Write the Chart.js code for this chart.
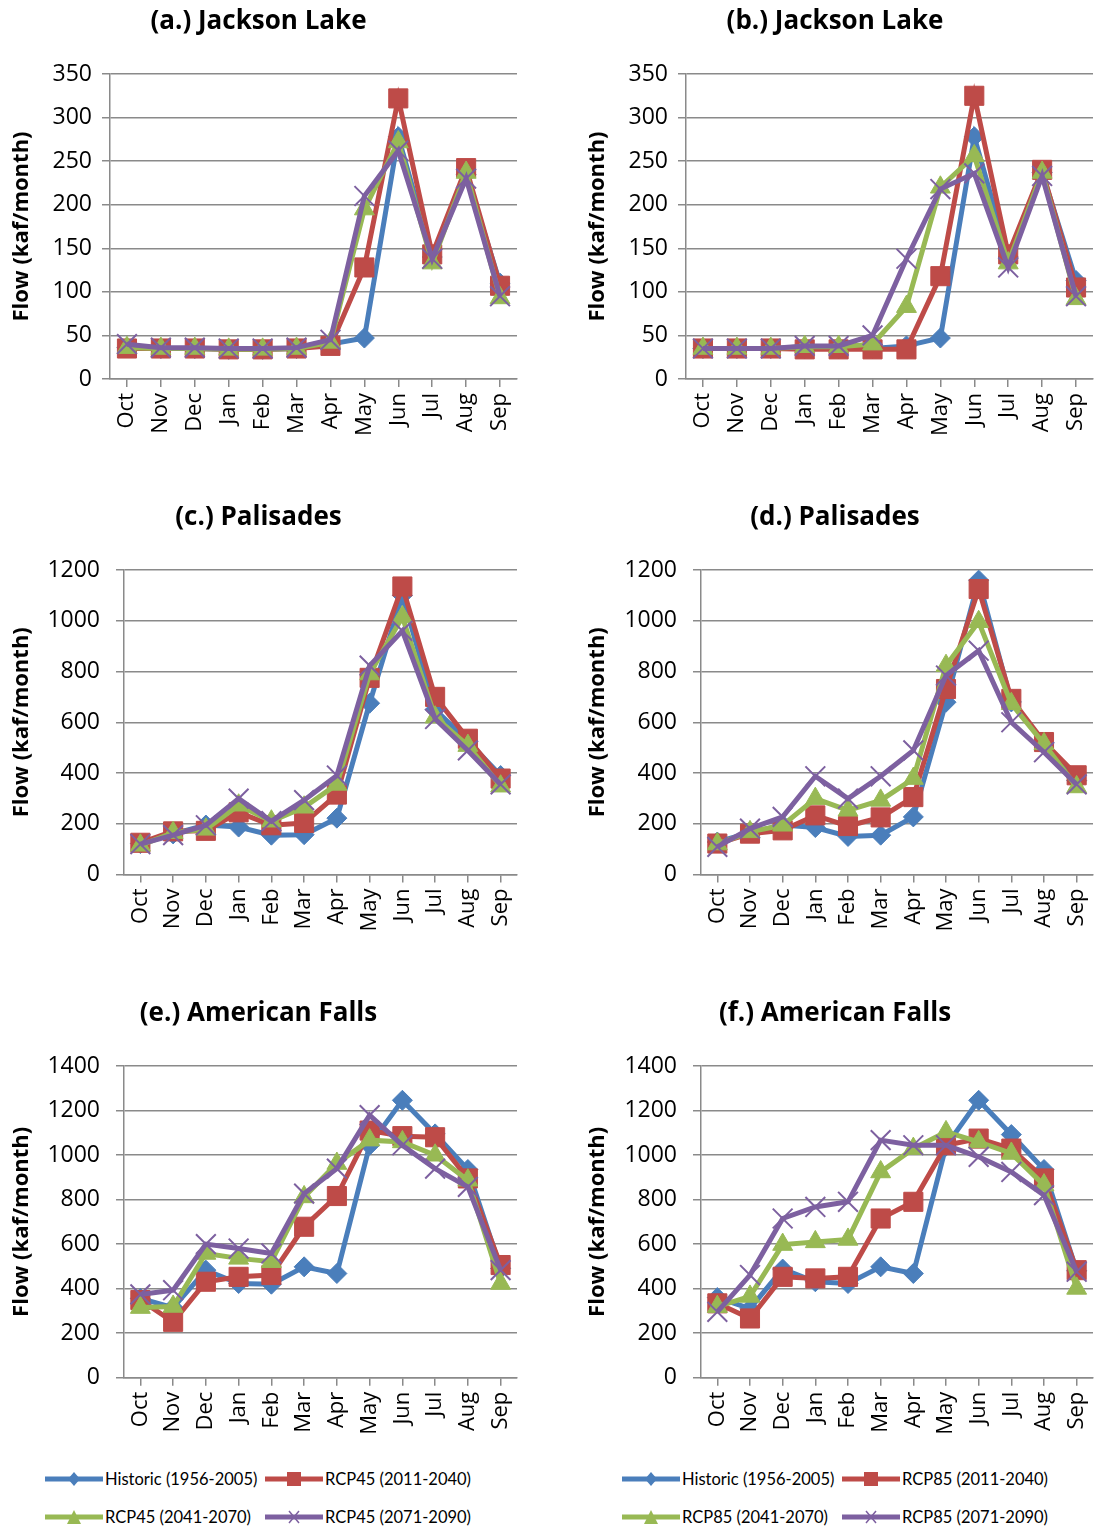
<!DOCTYPE html>
<html>
<head>
<meta charset="utf-8">
<script src="https://cdn.jsdelivr.net/npm/chart.js@4.4.1/dist/chart.umd.min.js"></script>
<style>
  body { margin: 0; background: #fff; }
  #page { position: relative; width: 1094px; height: 1531px; overflow: hidden; background: #fff; }
  #page canvas { position: absolute; }
  .leg { position: absolute; display: flex; align-items: center; height: 22px;
         font-family: Lato, sans-serif; font-size: 16.5px; color: #000; white-space: nowrap; }
  .leg svg { margin-right: 2px; }
</style>
</head>
<body>
<div id="page">
  <canvas id="chartA" width="549" height="450" style="left:-16px;top:0"></canvas>
  <canvas id="chartB" width="548" height="450" style="left:561px;top:0"></canvas>
  <canvas id="chartC" width="549" height="450" style="left:-16px;top:496px"></canvas>
  <canvas id="chartD" width="548" height="450" style="left:561px;top:496px"></canvas>
  <canvas id="chartE" width="549" height="460" style="left:-16px;top:992px"></canvas>
  <canvas id="chartF" width="548" height="460" style="left:561px;top:992px"></canvas>
</div>
<script>
const months = ["Oct", "Nov", "Dec", "Jan", "Feb", "Mar", "Apr", "May", "Jun", "Jul", "Aug", "Sep"];

const namesRcp45 = ["Historic (1956-2005)", "RCP45 (2011-2040)", "RCP45 (2041-2070)", "RCP45 (2071-2090)"];
const namesRcp85 = ["Historic (1956-2005)", "RCP85 (2011-2040)", "RCP85 (2041-2070)", "RCP85 (2071-2090)"];

// (a.) Jackson Lake, RCP45
const jacksonHist45 = [36, 35, 35, 34, 34, 35, 40, 47, 278, 140, 235, 110];
const jackson45Early = [35, 35, 35, 34, 34, 35, 38, 128, 322, 143, 242, 107];
const jackson45Mid = [36, 35, 35, 34, 34, 35, 42, 195, 272, 133, 237, 93];
const jackson45Late = [40, 36, 36, 35, 35, 36, 45, 210, 262, 138, 230, 95];

// (b.) Jackson Lake, RCP85
const jacksonHist85 = [35, 35, 35, 35, 35, 35, 38, 47, 278, 140, 237, 113];
const jackson85Early = [35, 35, 35, 34, 34, 34, 34, 118, 325, 143, 240, 105];
const jackson85Mid = [35, 35, 35, 37, 37, 40, 83, 220, 256, 133, 237, 92];
const jackson85Late = [35, 35, 35, 38, 38, 50, 138, 218, 236, 128, 233, 95];

// (c.) Palisades, RCP45
const palisadesHist45 = [122, 160, 195, 187, 155, 157, 222, 675, 1100, 650, 525, 390];
const palisades45Early = [125, 170, 172, 245, 194, 203, 315, 775, 1135, 700, 535, 378];
const palisades45Mid = [115, 165, 178, 273, 210, 265, 355, 790, 1015, 620, 508, 348];
const palisades45Late = [120, 155, 194, 299, 210, 293, 390, 823, 960, 613, 489, 355];

// (d.) Palisades, RCP85
const palisadesHist85 = [128, 165, 195, 185, 150, 155, 227, 679, 1160, 680, 520, 370];
const palisades85Early = [122, 161, 174, 233, 191, 225, 305, 731, 1125, 692, 522, 391];
const palisades85Mid = [120, 168, 194, 299, 253, 292, 378, 823, 996, 673, 515, 345];
const palisades85Late = [109, 181, 227, 387, 299, 387, 489, 784, 882, 600, 482, 355];

// (e.) American Falls, RCP45
const amFallsHist45 = [356, 315, 483, 423, 420, 498, 468, 1044, 1246, 1095, 935, 491];
const amFalls45Early = [349, 251, 431, 453, 461, 678, 816, 1110, 1085, 1080, 895, 506];
const amFalls45Mid = [315, 320, 558, 536, 521, 812, 962, 1067, 1059, 999, 887, 423];
const amFalls45Late = [374, 393, 600, 580, 558, 827, 939, 1179, 1044, 939, 857, 483];

// (f.) American Falls, RCP85
const amFallsHist85 = [360, 310, 488, 431, 423, 498, 468, 1040, 1246, 1092, 935, 480];
const amFalls85Early = [334, 266, 453, 446, 453, 715, 790, 1044, 1074, 1029, 895, 483];
const amFalls85Mid = [319, 365, 598, 610, 621, 924, 1029, 1104, 1059, 1007, 865, 401];
const amFalls85Late = [296, 461, 715, 767, 790, 1067, 1044, 1044, 992, 924, 820, 476];

const seriesColors = ["#4A7EBB", "#BE4B48", "#98B954", "#7D60A0"];
const seriesMarkers = ["rectRot", "rect", "triangle", "crossRot"];
const markerSizes = [10, 13.5, 11.5, 14];

const gridGray = "#8a8a8a";

// chart.js keeps ~16px free on the right for the markers, so canvases are a bit wider
function makeChart(id, title, names, series, yMax, yStep, yWidth, xHeight, tickPad, yTitlePad) {
  const datasets = series.map((data, i) => ({
    label: names[i],
    data: data,
    borderColor: seriesColors[i],
    backgroundColor: seriesColors[i],
    borderWidth: 5,
    tension: 0,
    pointStyle: seriesMarkers[i],
    pointRadius: markerSizes[i],
    pointBorderWidth: i === 3 ? 2 : 1,
    pointBorderColor: seriesColors[i],
    pointBackgroundColor: seriesColors[i],
    order: 4 - i,
    clip: false,
  }));

  return new Chart(document.getElementById(id), {
    type: "line",
    data: { labels: months, datasets },
    options: {
      responsive: false,
      animation: false,
      layout: { padding: 0 },
      plugins: {
        legend: { display: false },
        tooltip: { enabled: false },
        title: {
          display: true,
          text: title,
          color: "#000",
          font: { family: "'Open Sans'", size: 26, weight: "bold" },
          padding: { top: 6.4, bottom: 36.4 },
        },
      },
      scales: {
        x: {
          offset: true,
          afterFit(scale) {
            scale.height = xHeight;
            scale.paddingLeft = 0;
            scale.paddingRight = 0;
          },
          grid: {
            drawOnChartArea: false,
            drawTicks: true,
            tickLength: 8,
            color: gridGray,
            lineWidth: 1.5,
          },
          border: { color: gridGray, width: 1.5 },
          ticks: {
            minRotation: 90,
            maxRotation: 90,
            autoSkip: false,
            padding: 6,
            color: "#000",
            font: { family: "'Open Sans'", size: 22 },
          },
        },
        y: {
          min: 0,
          max: yMax,
          afterFit(scale) { scale.width = yWidth; },
          grid: { color: gridGray, lineWidth: 1.5, tickLength: 8 },
          border: { color: gridGray, width: 1.5 },
          ticks: {
            stepSize: yStep,
            padding: tickPad,
            color: "#000",
            font: { family: "'Open Sans'", size: 23 },
            callback: (v) => String(v),
          },
          title: {
            display: true,
            text: "Flow (kaf/month)",
            color: "#000",
            font: { family: "'Open Sans'", size: 22, weight: "bold" },
            padding: { top: yTitlePad, bottom: 0 },
          },
        },
      },
    },
  });
}

makeChart("chartA", "(a.) Jackson Lake", namesRcp45,
  [jacksonHist45, jackson45Early, jackson45Mid, jackson45Late], 350, 50, 126, 71, 10, 24.8);
makeChart("chartB", "(b.) Jackson Lake", namesRcp85,
  [jacksonHist85, jackson85Early, jackson85Mid, jackson85Late], 350, 50, 125, 71, 10, 23.8);
makeChart("chartC", "(c.) Palisades", namesRcp45,
  [palisadesHist45, palisades45Early, palisades45Mid, palisades45Late], 1200, 200, 140, 71.5, 16, 24.8);
makeChart("chartD", "(d.) Palisades", namesRcp85,
  [palisadesHist85, palisades85Early, palisades85Mid, palisades85Late], 1200, 200, 140, 71.5, 16, 23.8);
makeChart("chartE", "(e.) American Falls", namesRcp45,
  [amFallsHist45, amFalls45Early, amFalls45Mid, amFalls45Late], 1400, 200, 140, 74.3, 16, 24.8);
makeChart("chartF", "(f.) American Falls", namesRcp85,
  [amFallsHist85, amFalls85Early, amFalls85Mid, amFalls85Late], 1400, 200, 140, 74.3, 16, 23.8);

// legends below the bottom row, drawn as html
function markerSvg(i) {
  const c = seriesColors[i];
  let m = "";
  if (seriesMarkers[i] === "rectRot") m = `<polygon points="29,4 35,11 29,18 23,11" fill="${c}"/>`;
  if (seriesMarkers[i] === "rect") m = `<rect x="22" y="4" width="14" height="14" fill="${c}"/>`;
  if (seriesMarkers[i] === "triangle") m = `<polygon points="29,4 36,18 22,18" fill="${c}"/>`;
  if (seriesMarkers[i] === "crossRot") m = `<path d="M24,5 L34,17 M34,5 L24,17" stroke="${c}" stroke-width="1.5"/>`;
  return `<svg width="58" height="22"><line x1="0" y1="11" x2="58" y2="11" stroke="${c}" stroke-width="5" stroke-linecap="round"/>${m}</svg>`;
}

function makeLegend(names, left) {
  const cols = [left, left + 220];
  const rows = [1468, 1506];
  names.forEach((name, i) => {
    const div = document.createElement("div");
    div.className = "leg";
    div.style.left = cols[i % 2] + "px";
    div.style.top = rows[Math.floor(i / 2)] + "px";
    div.innerHTML = markerSvg(i) + "<span>" + name + "</span>";
    document.getElementById("page").appendChild(div);
  });
}

makeLegend(namesRcp45, 45);
makeLegend(namesRcp85, 622);
</script>
</body>
</html>
